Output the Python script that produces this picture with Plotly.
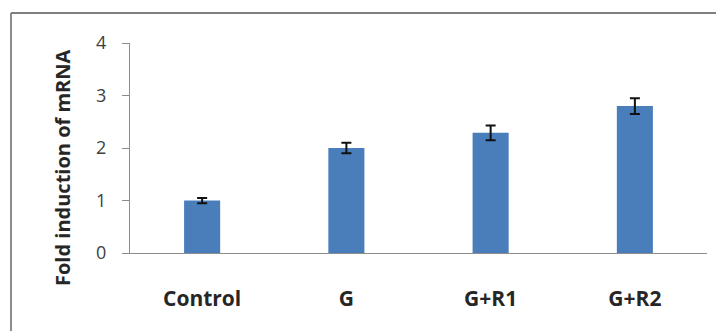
import plotly.graph_objects as go

categories = ["Control", "G", "G+R1", "G+R2"]
values = [1.0, 2.0, 2.29, 2.8]
errors = [0.05, 0.1, 0.14, 0.15]
y_ticks = [0, 1, 2, 3, 4]

# the page body has an 8px margin, so the figure is drawn 8px in from the window edge
OFF = 8
W, H = 724 - OFF, 331 - OFF
ml, mr, mt, mb = 130 - OFF, 17, 43 - OFF, 78
pw, ph = W - ml - mr, H - mt - mb

def px_x(p):
    return (p - OFF - ml) / pw

def px_y(p):
    return (H - mb - (p - OFF)) / ph

fig = go.Figure(go.Bar(
    x=categories, y=values,
    marker=dict(color="#4A7EBB", line=dict(width=0)),
    width=0.25,
    error_y=dict(type="data", array=errors, visible=True, color="#111111", thickness=2, width=5),
))

fig.update_layout(
    width=W, height=H,
    margin=dict(l=ml, r=mr, t=mt, b=mb),
    plot_bgcolor="white", paper_bgcolor="white",
    showlegend=False,
    font=dict(family="Open Sans", color="#404040"),
    xaxis=dict(
        showline=True, linecolor="#8C8C8C", linewidth=1,
        ticks="", showgrid=False,
        tickfont=dict(family="Open Sans", size=21, color="#262626", weight="bold"),
        ticklabelstandoff=27,
    ),
    yaxis=dict(
        range=[0, 4], tickvals=y_ticks,
        showline=True, linecolor="#8C8C8C", linewidth=1,
        ticks="outside", ticklen=7, tickcolor="#8C8C8C",
        showgrid=False, zeroline=False,
        tickfont=dict(family="Open Sans", size=18, color="#404040"),
        ticklabelstandoff=12,
    ),
    annotations=[dict(
        text="Fold induction of mRNA", textangle=-90,
        xref="paper", yref="paper", x=px_x(62), y=px_y(168),
        xanchor="center", yanchor="middle", showarrow=False,
        font=dict(family="Open Sans", size=20, color="#262626", weight="bold"),
    )],
    shapes=[
        dict(type="line", xref="paper", yref="paper",
             x0=px_x(11), x1=px_x(11), y0=px_y(13), y1=px_y(331),
             line=dict(color="#8C8C8C", width=2)),
        dict(type="line", xref="paper", yref="paper",
             x0=px_x(11), x1=px_x(724), y0=px_y(13), y1=px_y(13),
             line=dict(color="#7F7F7F", width=2)),
    ],
)

fig.write_html("out.html")
